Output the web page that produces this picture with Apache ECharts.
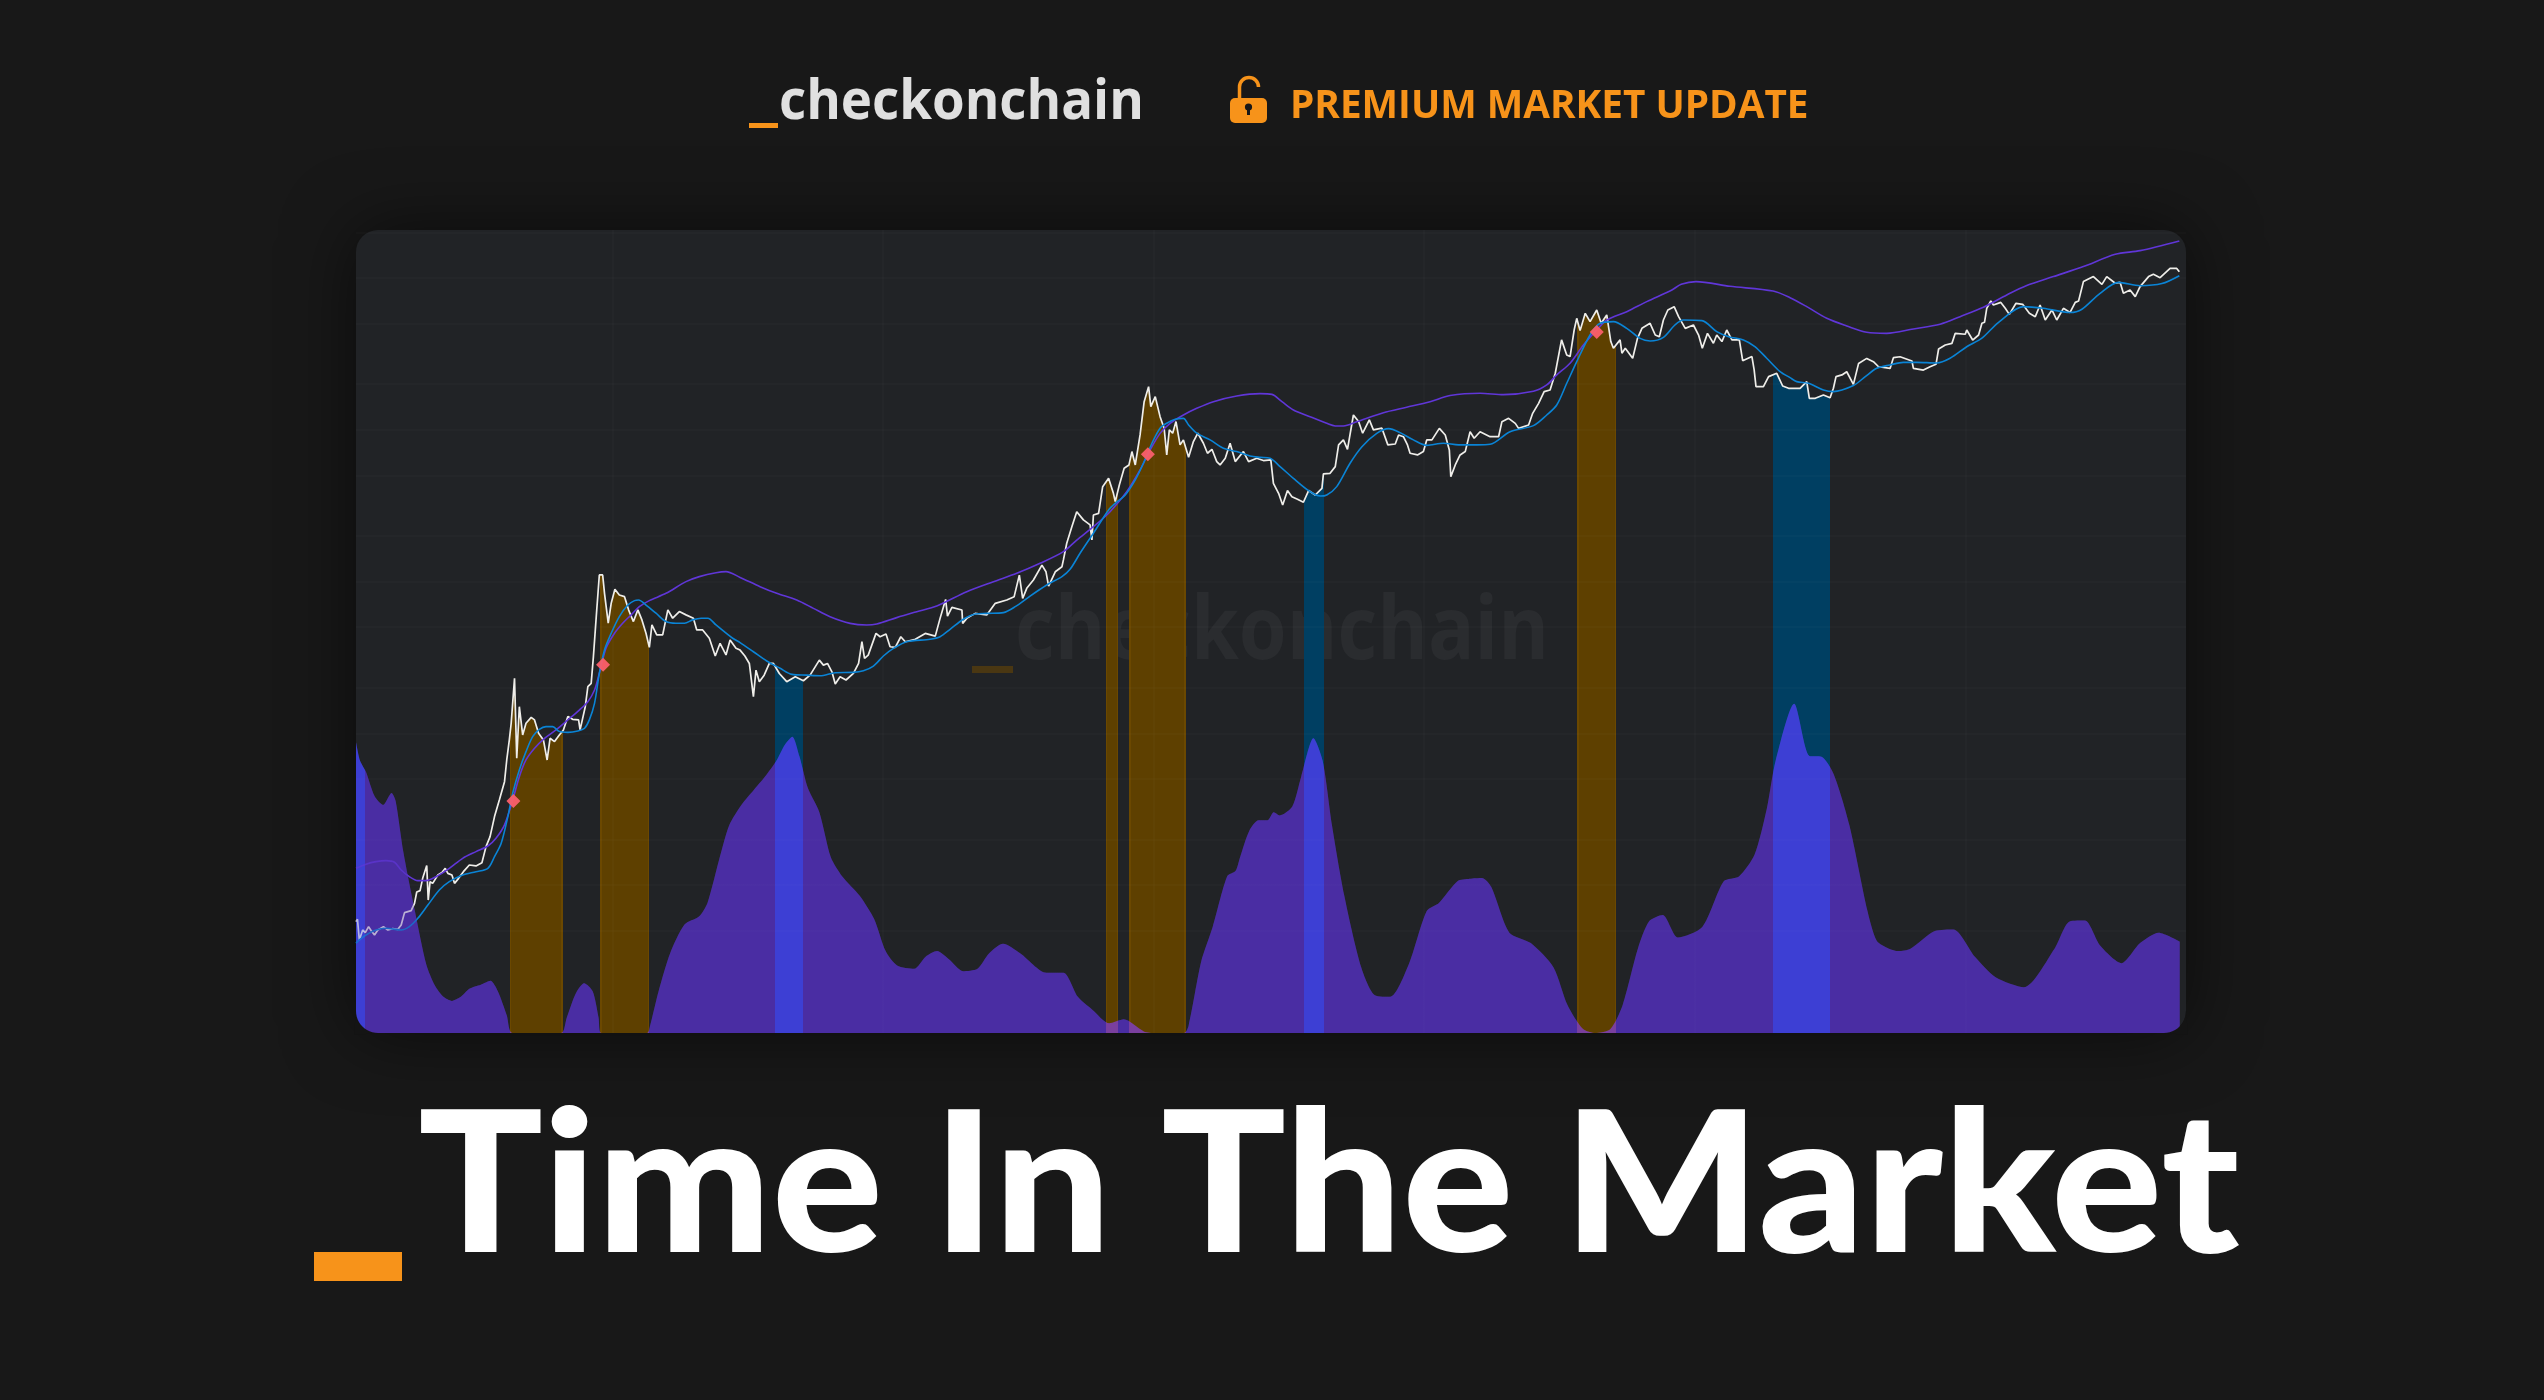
<!DOCTYPE html>
<html><head><meta charset="utf-8">
<style>html,body{margin:0;padding:0;background:#181818}#c{width:2544px;height:1400px}</style>
<script src="https://cdn.jsdelivr.net/npm/echarts@6/dist/echarts.min.js"></script>
</head><body><div id="c"></div>
<script>
// Days are counted from 2012-02-08; price values are log10(USD).
const startUTC = Date.UTC(2012,1,8);
const dayMax = 4941;
const price2012 = [[0,.759],[4,.774],[9,.638],[18,.704],[25,.686],[34,.726],[41,.699],[50,.671],[59,.704],[74,.726],[86,.704],[99,.713],[113,.708],[122,.737],[131,.818],[149,.831],[158,.879],[164,.954],[173,.963],[180,1.044],[191,1.128],[195,.901],[200,1.022],[207,1.011],[221,1.066],[232,1.082],[241,1.110],[248,1.077],[259,1.066],[266,1.011],[277,1.044],[290,1.088],[306,1.132],[324,1.126],[340,1.147],[351,1.253],[362,1.319],[374,1.451],[387,1.560],[401,1.681],[407,1.824],[414,1.956],[419,2.066],[428,2.362],[434,1.835],[441,2.175],[450,1.989],[459,2.066],[473,2.105],[482,2.088],[493,2.000],[506,1.956],[516,1.824],[524,1.967],[536,1.945],[549,1.989],[560,2.022],[572,2.110],[585,2.092],[601,2.088],[605,2.022],[619,2.175],[626,2.307],[635,2.329],[641,2.505],[650,2.813],[657,3.043],[666,3.043],[671,2.922],[681,2.725],[689,2.856],[699,2.949],[711,2.911],[725,2.900],[736,2.813],[749,2.736],[761,2.813],[772,2.747],[783,2.659],[792,2.566],[799,2.714],[812,2.648],[828,2.648],[842,2.813],[855,2.758],[873,2.802],[891,2.780],[911,2.758],[920,2.681],[936,2.681],[954,2.626],[970,2.509],[983,2.593],[999,2.516],[1010,2.615],[1026,2.560]];
const price2015 = [[1037,2.548],[1050,2.509],[1062,2.460],[1073,2.241],[1080,2.416],[1089,2.340],[1102,2.383],[1116,2.460],[1127,2.460],[1143,2.394],[1163,2.340],[1186,2.372],[1208,2.346],[1226,2.383],[1251,2.482],[1262,2.449],[1273,2.460],[1285,2.405],[1294,2.324],[1307,2.372],[1323,2.351],[1343,2.394],[1357,2.460],[1366,2.603],[1373,2.493],[1383,2.515],[1404,2.658],[1415,2.636],[1431,2.654],[1442,2.570],[1456,2.566],[1471,2.636],[1483,2.603],[1510,2.619],[1537,2.658],[1564,2.640],[1577,2.757],[1592,2.882],[1597,2.772],[1609,2.829],[1636,2.812],[1638,2.724],[1649,2.757],[1672,2.790],[1703,2.779],[1726,2.856],[1757,2.878],[1777,2.900],[1791,3.042],[1800,2.889],[1811,2.955],[1829,3.010],[1852,3.108],[1863,3.064],[1870,2.970],[1888,3.064],[1906,3.097]];
const price2017 = [[1910,3.142],[1919,3.252],[1933,3.362],[1946,3.460],[1964,3.406],[1982,3.373],[1987,3.274],[1991,3.438],[2005,3.449],[2016,3.625],[2032,3.680],[2045,3.581],[2050,3.526],[2061,3.636],[2074,3.746],[2087,3.768],[2095,3.856],[2104,3.768],[2117,3.966],[2128,4.185],[2140,4.284],[2146,4.152],[2158,4.218],[2171,4.086],[2182,4.010],[2189,3.834],[2196,3.999],[2205,3.977],[2214,4.054],[2225,3.900],[2234,3.933],[2248,3.818],[2261,3.922],[2273,3.977],[2288,3.911],[2299,3.845],[2311,3.871],[2324,3.790],[2333,3.768],[2347,3.812],[2360,3.911],[2374,3.790],[2396,3.856],[2410,3.790],[2432,3.812],[2450,3.797],[2470,3.801],[2477,3.647],[2491,3.581],[2502,3.504],[2515,3.599],[2527,3.559],[2542,3.542],[2558,3.522],[2572,3.599],[2590,3.570],[2608,3.614],[2612,3.709],[2630,3.713],[2644,3.757],[2653,3.900],[2666,3.933],[2677,3.871],[2693,4.097],[2707,4.054],[2718,3.977],[2736,4.065],[2747,3.999],[2770,4.010],[2786,3.900],[2806,3.906],[2815,3.965]];
const price2020 = [[2828,3.954],[2839,3.900],[2846,3.845],[2866,3.834],[2882,3.856],[2891,3.933],[2905,3.933],[2925,4.009],[2941,3.965],[2952,3.867],[2956,3.691],[2968,3.768],[2981,3.834],[2995,3.856],[3008,3.987],[3019,3.944],[3035,3.987],[3062,3.954],[3085,3.954],[3094,4.053],[3112,4.075],[3130,4.042],[3139,4.009],[3166,4.031],[3177,4.108],[3193,4.174],[3208,4.251],[3224,4.262],[3238,4.372],[3255,4.592],[3269,4.493],[3278,4.482],[3289,4.657],[3296,4.734],[3305,4.653],[3319,4.767],[3332,4.712],[3350,4.789],[3362,4.701],[3377,4.756],[3388,4.581],[3395,4.537],[3413,4.592],[3418,4.504],[3427,4.537],[3447,4.471],[3460,4.602],[3472,4.668],[3494,4.701],[3508,4.624],[3519,4.613],[3530,4.723],[3542,4.789],[3559,4.811],[3571,4.745],[3589,4.668],[3611,4.690],[3625,4.624],[3635,4.537],[3649,4.635],[3665,4.570],[3674,4.624],[3688,4.581],[3701,4.657],[3715,4.592],[3735,4.592],[3744,4.455],[3769,4.482],[3775,4.394],[3780,4.284],[3800,4.284],[3814,4.350],[3836,4.372],[3852,4.288],[3868,4.273]];
const price2023 = [[3899,4.273],[3917,4.317],[3924,4.207],[3940,4.207],[3962,4.229],[3980,4.211],[3989,4.273],[3996,4.350],[4012,4.361],[4025,4.382],[4043,4.299],[4057,4.437],[4079,4.470],[4097,4.448],[4111,4.415],[4142,4.404],[4151,4.475],[4169,4.481],[4201,4.453],[4205,4.404],[4232,4.393],[4250,4.415],[4266,4.431],[4273,4.532],[4291,4.558],[4309,4.569],[4318,4.635],[4345,4.629],[4349,4.657],[4365,4.591],[4381,4.624],[4390,4.701],[4397,4.708],[4403,4.800],[4414,4.848],[4421,4.822],[4441,4.839],[4453,4.800],[4464,4.760],[4482,4.833],[4500,4.826],[4518,4.767],[4534,4.745],[4547,4.822],[4561,4.723],[4579,4.789],[4592,4.723],[4610,4.800],[4628,4.773],[4642,4.839],[4651,4.848],[4664,4.976],[4691,5.009],[4714,4.958],[4727,5.009],[4750,4.965],[4763,4.971],[4772,4.899],[4790,4.921],[4804,4.877],[4817,4.943],[4840,5.009],[4853,5.024],[4871,5.002],[4898,5.063],[4916,5.063],[4923,5.041]];
const blueAverage = [[0,.616],[9,.638],[27,.671],[54,.704],[81,.715],[122,.704],[144,.726],[167,.781],[194,.868],[225,.967],[252,1.022],[288,1.066],[324,1.088],[356,1.110],[374,1.187],[392,1.275],[410,1.451],[423,1.604],[441,1.758],[459,1.879],[477,1.978],[495,2.026],[513,2.044],[531,2.044],[549,2.011],[572,2.006],[599,2.015],[617,2.033],[630,2.088],[644,2.197],[657,2.395],[671,2.549],[689,2.659],[711,2.769],[734,2.845],[752,2.874],[763,2.878],[783,2.845],[810,2.791],[837,2.736],[864,2.725],[887,2.725],[909,2.747],[932,2.758],[950,2.758],[972,2.714],[1017,2.626],[1037,2.597],[1073,2.537],[1109,2.476],[1145,2.428],[1177,2.388],[1217,2.383],[1253,2.379],[1294,2.399],[1343,2.401],[1370,2.412],[1397,2.443],[1424,2.509],[1451,2.559],[1487,2.603],[1550,2.619],[1577,2.636],[1604,2.685],[1640,2.751],[1672,2.786],[1703,2.790],[1748,2.795],[1780,2.834],[1820,2.904],[1865,2.977],[1906,3.032],[1928,3.080],[1955,3.186],[1991,3.318],[2032,3.471],[2050,3.515],[2077,3.570],[2104,3.669],[2126,3.779],[2149,3.911],[2171,4.010],[2189,4.043],[2212,4.069],[2234,4.075],[2248,4.031],[2270,3.977],[2306,3.933],[2342,3.878],[2378,3.856],[2414,3.827],[2441,3.818],[2468,3.812],[2495,3.757],[2531,3.680],[2572,3.599],[2603,3.563],[2621,3.570],[2648,3.625],[2684,3.779],[2716,3.888],[2756,3.976],[2788,4.007],[2819,3.981],[2855,3.933],[2891,3.897],[2936,3.911],[2977,3.900],[3026,3.900],[3062,3.904],[3116,3.987],[3179,4.027],[3215,4.097],[3242,4.163],[3269,4.306],[3296,4.449],[3332,4.624],[3359,4.701],[3395,4.712],[3431,4.668],[3467,4.602],[3494,4.585],[3530,4.609],[3561,4.690],[3584,4.723],[3634,4.719],[3674,4.646],[3706,4.613],[3746,4.592],[3777,4.548],[3809,4.471],[3845,4.383],[3872,4.343],[3890,4.317],[3922,4.306],[3962,4.262],[3989,4.251],[4043,4.291],[4075,4.350],[4106,4.405],[4142,4.427],[4178,4.444],[4214,4.444],[4268,4.440],[4304,4.471],[4349,4.547],[4390,4.603],[4435,4.708],[4502,4.811],[4556,4.800],[4628,4.772],[4660,4.794],[4709,4.899],[4759,4.971],[4817,4.949],[4876,4.963],[4923,5.015]];
const purpleAverage = [[0,1.110],[27,1.137],[54,1.154],[81,1.161],[104,1.150],[122,1.099],[144,1.055],[167,1.029],[189,1.029],[216,1.055],[252,1.110],[288,1.176],[324,1.220],[356,1.257],[378,1.308],[401,1.396],[423,1.560],[441,1.714],[459,1.824],[482,1.901],[509,1.967],[540,2.022],[572,2.088],[603,2.153],[626,2.208],[644,2.285],[657,2.395],[675,2.560],[698,2.659],[720,2.725],[743,2.780],[765,2.834],[792,2.874],[837,2.922],[891,2.999],[927,3.032],[972,3.058],[999,3.065],[1037,3.027],[1091,2.966],[1136,2.922],[1190,2.878],[1235,2.823],[1280,2.768],[1334,2.724],[1379,2.713],[1406,2.720],[1460,2.762],[1514,2.801],[1568,2.839],[1649,2.933],[1721,2.999],[1784,3.054],[1847,3.120],[1910,3.197],[1946,3.273],[1991,3.361],[2036,3.460],[2081,3.592],[2117,3.735],[2144,3.866],[2171,3.976],[2198,4.042],[2234,4.097],[2270,4.141],[2315,4.185],[2378,4.222],[2441,4.238],[2473,4.233],[2500,4.185],[2531,4.130],[2576,4.086],[2621,4.042],[2644,4.025],[2666,4.025],[2702,4.053],[2774,4.112],[2837,4.148],[2900,4.185],[2954,4.225],[3035,4.240],[3098,4.231],[3179,4.253],[3215,4.295],[3242,4.361],[3278,4.438],[3314,4.558],[3350,4.657],[3377,4.723],[3431,4.778],[3485,4.844],[3553,4.921],[3578,4.958],[3618,4.976],[3710,4.945],[3826,4.914],[3872,4.870],[3917,4.811],[3971,4.734],[4025,4.684],[4079,4.642],[4133,4.635],[4205,4.664],[4277,4.695],[4331,4.745],[4394,4.807],[4457,4.888],[4511,4.950],[4583,5.009],[4664,5.075],[4750,5.156],[4817,5.180],[4923,5.244]];
const oscillator2012 = [[0,36.2],[11,33.9],[27,32.5],[50,29.5],[73,28.4],[96,29.9],[107,28.9],[128,22.5],[159,15.2],[190,8.5],[213,5.9],[236,4.5],[259,4.0],[283,4.5],[306,5.5],[337,6.0],[363,6.5],[383,5.2],[407,2.2],[422,0],[554,0],[569,1.9],[593,4.9],[616,6.2],[639,5.2],[655,1.9],[662,0],[786,0],[794,.9],[817,5.2],[848,9.9],[887,13.5],[926,14.5],[949,16.2],[980,21.5],[1008,25.9],[1042,28.5],[1073,30.2],[1104,31.9],[1135,33.9],[1158,35.9],[1178,36.9],[1197,34.5],[1220,30.5],[1251,27.5],[1282,21.9],[1313,19.5],[1360,17.1],[1399,14.2],[1430,10.2],[1461,8.4],[1507,8.0],[1538,9.5],[1569,10.2],[1600,9.2],[1639,7.7],[1678,8.0],[1709,9.9],[1747,11.1],[1794,9.9],[1864,7.5],[1910,7.5],[1949,4.5],[1988,2.9],[2034,1.2],[2073,1.7],[2127,.2],[2158,0],[2236,0]];
const oscillator2018 = [[2248,.9],[2282,8.9],[2313,13.2],[2352,19.5],[2375,20.2],[2387,21.9],[2412,25.2],[2437,26.5],[2461,26.5],[2478,27.5],[2494,27.1],[2528,28.2],[2552,31.9],[2585,36.7],[2610,33.9],[2635,25.9],[2668,17.2],[2714,8.2],[2751,4.7],[2792,4.5],[2842,8.5],[2891,15.2],[2924,16.2],[2974,18.9],[3007,19.2],[3040,19.3],[3065,18.2],[3114,12.5],[3172,11.2],[3233,8.2],[3271,3.5],[3313,.5],[3346,0],[3387,.5],[3420,3.5],[3461,10.5],[3491,13.9],[3528,14.7],[3569,11.9],[3635,13.2],[3693,18.9],[3734,19.5],[3776,22.2],[3809,27.9],[3833,33.9],[3883,41.0],[3924,34.5],[3957,34.4],[3990,32.2],[4032,25.9],[4081,15.2],[4106,11.5],[4139,10.5],[4164,10.2],[4197,10.5],[4263,12.7],[4313,12.9],[4371,9.5],[4428,6.9],[4503,5.7],[4586,10.5],[4627,13.9],[4668,14.0],[4709,10.9],[4767,8.7],[4817,11.2],[4867,12.5],[4924,11.4]];
const signalPoints = [[425,1.554],[667,2.452],[2138,3.838],[3350,4.644]];
const orangeBands = [[415,558],[659,792],[2024,2058],[2088,2240],[3297,3402]];
const blueBands = [[0,24],[1131,1206],[2559,2613],[3826,3979]];
const gridPrices = [5,10,20,50,100,200,500,1000,2000,5000,10000,20000,50000,100000,200000];
const gridYears = [2014,2016,2018,2020,2022,2024];
const headerBrand = 'checkonchain';
const headerBadge = 'PREMIUM MARKET UPDATE';
const pageTitle = 'Time In The Market';

const price = [...price2012,...price2015,...price2017,...price2020,...price2023];
const oscillator = [...oscillator2012,...oscillator2018];

const ORANGE='#F7931A', BG='#181818', PANEL='#212326';
function bandGradient(lastDay, outside, orangeCol, blueCol, edgeCol){
  const bands = [...orangeBands.map(b=>[b[0],b[1],orangeCol,edgeCol]),...blueBands.map(b=>[b[0],b[1],blueCol,null])].sort((a,b)=>a[0]-b[0]);
  const stops=[];
  const add=(d,c)=>stops.push({offset:Math.min(1,Math.max(0,d/lastDay)),color:c});
  add(0,outside);
  bands.forEach(([a,b,c,e])=>{
    add(a,outside);
    if(e){add(a,e);add(a+4,e);add(a+4,c);add(b-4,c);add(b-4,e);add(b,e);}
    else{add(a,c);add(b,c);}
    add(b,outside);
  });
  add(lastDay,outside);
  return {type:'linear',x:0,y:0,x2:1,y2:0,colorStops:stops};
}
const NONE='rgba(0,0,0,0)';
const bandFill = bandGradient(price[price.length-1][0],NONE,'#5e4000','#003f62','#6b4800');
const oscFill = bandGradient(oscillator[oscillator.length-1][0],'#4a2da3','#7a3f9e','#3d3fd4',null);

const toDay = y => (Date.UTC(y,0,1)-startUTC)/86400000;
const gridMarks = [...gridPrices.map(p=>({yAxis:Math.log10(p)})),...gridYears.map(y=>({xAxis:toDay(y)}))];

function cornerPoints(cx,cy,x0,y0,a0){
  const pts=[[x0,y0]];
  for(let i=0;i<=12;i++){const a=a0+i/12*Math.PI/2;pts.push([cx+22*Math.cos(a),cy+22*Math.sin(a)]);}
  return pts;
}
const P={l:356,t:230,r:2186,b:1033};
const chart=echarts.init(document.getElementById('c'),null,{renderer:'canvas'});
chart.setOption({
  animation:false,
  backgroundColor:BG,
  grid:{left:P.l,top:P.t,width:P.r-P.l,height:P.b-P.t,containLabel:false},
  xAxis:{type:'value',min:0,max:dayMax,show:false},
  yAxis:[
    {type:'value',min:0.025,max:5.316,show:false},
    {type:'value',min:0,max:100,show:false}
  ],
  graphic:[
    {type:'rect',z:-5,silent:true,shape:{x:P.l,y:P.t,width:P.r-P.l,height:P.b-P.t,r:22},style:{fill:PANEL,shadowBlur:70,shadowColor:'rgba(0,0,0,0.55)'}},
    {type:'rect',z:-4,silent:true,shape:{x:972,y:666,width:41,height:7},style:{fill:'#4a3712'}},
    {type:'text',z:-4,silent:true,x:1015,y:678,scaleX:0.878,style:{x:0,y:0,text:headerBrand,font:'700 88px "Open Sans"',fill:'#2a2c2f',textAlign:'left',textVerticalAlign:'bottom'}},
    {type:'polygon',z:100,silent:true,shape:{points:cornerPoints(P.l+22,P.b-22,P.l-2,P.b+2,Math.PI/2)},style:{fill:'#141414'}},
    {type:'polygon',z:100,silent:true,shape:{points:cornerPoints(P.r-22,P.b-22,P.r+2,P.b+2,0)},style:{fill:'#141414'}},
    {type:'rect',silent:true,shape:{x:749,y:123,width:29,height:5},style:{fill:ORANGE}},
    {type:'text',silent:true,x:779,y:131,scaleX:0.943,style:{x:0,y:0,text:headerBrand,font:'700 56px "Open Sans"',fill:'#e0e0e0',textAlign:'left',textVerticalAlign:'bottom'}},
    {type:'arc',silent:true,shape:{cx:1249,cy:87,r:9.5,startAngle:Math.PI,endAngle:0,clockwise:true},style:{stroke:ORANGE,lineWidth:3.5,fill:'none'}},
    {type:'line',silent:true,shape:{x1:1239.5,y1:87,x2:1239.5,y2:100},style:{stroke:ORANGE,lineWidth:3.5}},
    {type:'rect',silent:true,shape:{x:1230,y:98,width:37,height:25,r:5},style:{fill:ORANGE}},
    {type:'circle',silent:true,shape:{cx:1248.5,cy:107,r:3.6},style:{fill:BG}},
    {type:'rect',silent:true,shape:{x:1247,y:107,width:3,height:8},style:{fill:BG}},
    {type:'text',silent:true,x:1290,y:126,scaleX:0.993,style:{x:0,y:0,text:headerBadge,font:'700 39px "Open Sans"',fill:ORANGE,textAlign:'left',textVerticalAlign:'bottom'}},
    {type:'rect',silent:true,shape:{x:314,y:1252,width:88,height:29},style:{fill:ORANGE}},
    {type:'text',silent:true,x:418,y:1287,scaleX:1.06,style:{x:0,y:0,text:pageTitle,font:'900 196px Lato',fill:'#ffffff',textAlign:'left',textVerticalAlign:'bottom'}}
  ],
  series:[
    {type:'line',name:'Band fill',z:2,data:price,showSymbol:false,symbol:'none',lineStyle:{width:0,opacity:0},areaStyle:{color:bandFill,opacity:1,origin:'start'},silent:true},
    {type:'line',name:'Oscillator',z:3,yAxisIndex:1,data:oscillator,showSymbol:false,symbol:'none',smooth:0.25,lineStyle:{width:0,opacity:0},areaStyle:{color:oscFill,opacity:1,origin:'start'},silent:true},
    {type:'line',name:'Grid',z:4,data:[],silent:true,
      markLine:{silent:true,symbol:'none',label:{show:false},animation:false,lineStyle:{color:'rgba(255,255,255,0.024)',width:1.5,type:'solid'},data:gridMarks}},
    {type:'line',name:'Price',z:5,data:price,showSymbol:false,symbol:'none',lineStyle:{color:'#efeeea',width:1.7},silent:true},
    {type:'line',name:'Purple average',z:6,data:purpleAverage,showSymbol:false,symbol:'none',smooth:0.3,lineStyle:{color:'#6036d8',width:1.6},silent:true},
    {type:'line',name:'Blue average',z:6,data:blueAverage,showSymbol:false,symbol:'none',smooth:0.3,lineStyle:{color:'#0a84d6',width:1.6},silent:true},
    {type:'line',name:'Oscillator glaze',z:7,yAxisIndex:1,data:oscillator,showSymbol:false,symbol:'none',smooth:0.25,lineStyle:{width:0,opacity:0},areaStyle:{color:oscFill,opacity:0.32,origin:'start'},silent:true},
    {type:'scatter',name:'Signals',z:8,data:signalPoints,symbol:'diamond',symbolSize:14,itemStyle:{color:'#fb5f6a',opacity:0.95},silent:true}
  ]
});
</script></body></html>
